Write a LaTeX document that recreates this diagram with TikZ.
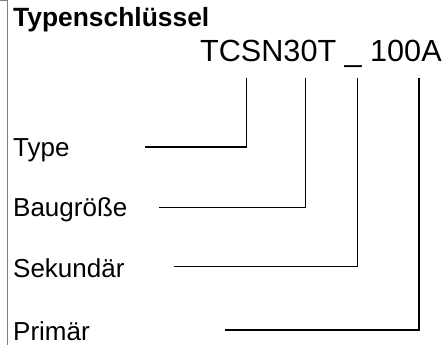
\documentclass[tikz,border=0pt]{standalone}
\usepackage{fontspec}
\setmainfont{Liberation Sans}
\usetikzlibrary{calc,positioning}
\tikzset{
  lbl/.style={anchor=base west,inner sep=0pt,font=\fontsize{26}{30}\selectfont},
  lead/.style={line width=1.5pt,black}
}
\begin{document}
\begin{tikzpicture}[x=1pt,y=-1pt]
    \useasboundingbox (0,0) rectangle (448,345);
    \draw[gray,line width=1pt] (0,0.8) -- (7.5,0.8) -- (7.5,345);
    \node[lbl,font=\fontsize{26.4}{30}\selectfont\bfseries] (title) at (13,27) {Typenschl\"ussel};
    \node[lbl,font=\fontsize{30.6}{34}\selectfont] (code) at (200,62) {TCSN30T \_ 100A};
    \node[lbl] (type) at (13,157) {Type};
    \node[lbl] (size) at (13,217) {Baugr\"o\ss e};
    \node[lbl] (sec) at (13,277) {Sekund\"ar};
    \node[lbl] (prim) at (13,340) {Prim\"ar};
    % Abzweige unter dem Code
    \coordinate (t1) at (246.5,78);
    \coordinate (t2) at (305.3,78);
    \coordinate (t3) at (357.7,78);
    \coordinate (t4) at (419,78);
    \coordinate (s1) at (145,147);
    \coordinate (s2) at (159,207.5);
    \coordinate (s3) at (174,266.5);
    \coordinate (s4) at (225,330);
    \draw[lead] (s1) -| (t1);
    \draw[lead] (s2) -| (t2);
    \draw[lead] (s3) -| (t3);
    \draw[lead] (s4) -| (t4);
  \end{tikzpicture}
\end{document}
